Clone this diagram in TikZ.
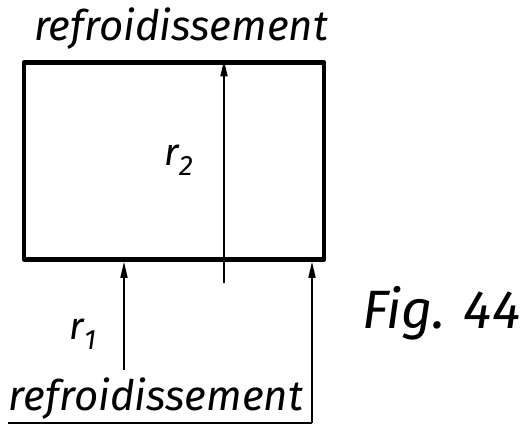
\documentclass[tikz,border=0pt]{standalone}
\usepackage{fontspec}
\setmainfont{Fira Sans}
\usetikzlibrary{positioning,arrows.meta,calc}
\tikzset{
  vessel/.style  ={draw, line width=4.5pt, minimum width=300pt, minimum height=197pt,
                   inner sep=0pt, line join=round},
  flow/.style    ={-{Triangle[length=16pt,width=7pt]}, line width=1.6pt},
  pipe/.style    ={line width=1.6pt},
  word/.style    ={font=\fontsize{42}{48}\selectfont\itshape, inner sep=0pt, anchor=base},
  sym/.style     ={font=\fontsize{38}{44}\selectfont\itshape, inner sep=0pt},
}
\begin{document}
\begin{tikzpicture}[x=1pt,y=-1pt]
    \useasboundingbox (0,0) rectangle (529,426);
    % cooled vessel
    \node[vessel] (vessel) at (174,161) {};
    % coolant labels
    \node[word] (coolTop) at (181,40) {refroidissement};
    \node[word] (coolBot) at (156,410) {refroidissement};
    % internal flow r2
    \coordinate (r2in) at (224,283);
    \draw[flow] (r2in) -- (r2in |- vessel.north);
    \node[sym] (r2) at (179,160) {r\textsubscript{\fontsize{28}{32}\selectfont 2}};
    % inlet flow r1
    \coordinate (r1in) at (124,370);
    \draw[flow] (r1in) -- (r1in |- vessel.south);
    \node[sym] (r1) at (83,334) {r\textsubscript{\fontsize{28}{32}\selectfont 1}};
    % coolant return line
    \coordinate (retStart) at (8,423);
    \coordinate (retCorner) at (312,423);
    \draw[pipe] (retStart) -- (retCorner);
    \draw[flow] (retCorner) -- (retCorner |- vessel.south);
    % caption
    \node[sym, font=\fontsize{54}{60}\selectfont\itshape, anchor=base west] (caption)
        at (362,328) {Fig.\,\,44};
\end{tikzpicture}
\end{document}
